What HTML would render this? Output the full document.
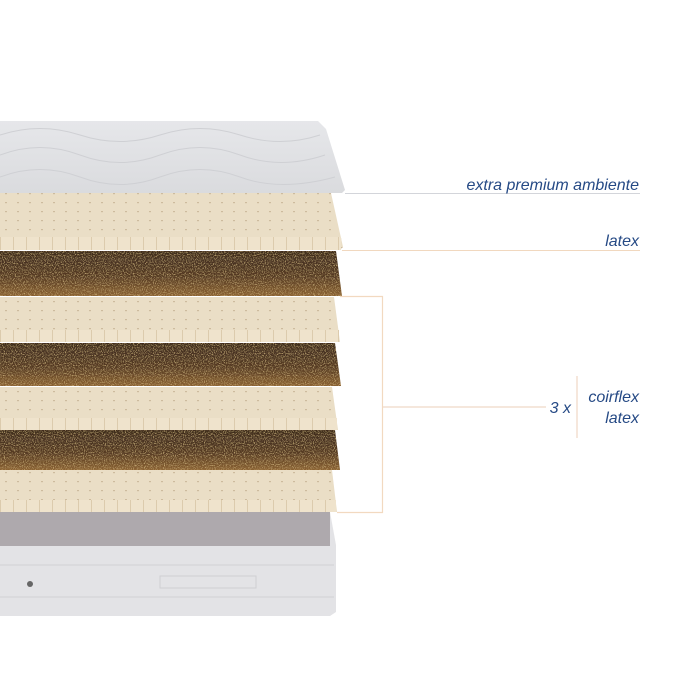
<!DOCTYPE html>
<html><head><meta charset="utf-8"><style>
html,body{margin:0;padding:0;background:#fff;width:700px;height:700px;overflow:hidden}
</style></head><body>
<svg width="700" height="700" viewBox="0 0 700 700" xmlns="http://www.w3.org/2000/svg">
<defs>
<pattern id="dots" width="12" height="9" patternUnits="userSpaceOnUse">
<rect x="5" y="4" width="2" height="1.2" fill="#cdbb9e"/>
</pattern>
<pattern id="ribs" width="13" height="20" patternUnits="userSpaceOnUse">
<rect x="0" y="0" width="1" height="20" fill="#dccbad"/>
</pattern>
<linearGradient id="coir" x1="0" y1="0" x2="0" y2="1">
<stop offset="0" stop-color="#3f2c1e"/><stop offset="0.55" stop-color="#553a24"/><stop offset="1" stop-color="#8a6232"/>
</linearGradient>
<linearGradient id="quilt" x1="0" y1="0" x2="0" y2="1">
<stop offset="0" stop-color="#e6e7ea"/><stop offset="1" stop-color="#dadbde"/>
</linearGradient>
<filter id="speck" x="0" y="0" width="100%" height="100%">
<feTurbulence type="fractalNoise" baseFrequency="0.9" numOctaves="2" seed="3" result="n"/>
<feColorMatrix in="n" type="matrix" values="0 0 0 0 0.75  0 0 0 0 0.55  0 0 0 0 0.25  0 0 0 2.2 -1.1" result="s"/>
<feComposite in="s" in2="SourceGraphic" operator="in" result="c"/>
<feMerge><feMergeNode in="SourceGraphic"/><feMergeNode in="c"/></feMerge>
</filter>
</defs>
<!-- base -->
<path d="M0 512 H330 L336 545 V612 L330 616 H0Z" fill="#e3e3e6"/>
<rect x="0" y="512" width="330" height="34" fill="#aea9ad"/>
<line x1="0" y1="565" x2="334" y2="565" stroke="#d0d0d4"/>
<line x1="0" y1="597" x2="334" y2="597" stroke="#d0d0d4"/>
<rect x="160" y="576" width="96" height="12" fill="none" stroke="#cfcfd3"/>
<circle cx="30" cy="584" r="3" fill="#666"/>
<!-- latex 4 -->
<path d="M0 470 H332 L337 512 H0Z" fill="#eadec6"/>
<path d="M0 470 H332 L337 512 H0Z" fill="url(#dots)"/>
<rect x="0" y="500" width="336" height="12" fill="#efe3cc"/><rect x="0" y="500" width="336" height="12" fill="url(#ribs)"/>
<!-- coir 3 -->
<path d="M0 430 H335 L340 470 H0Z" fill="url(#coir)" filter="url(#speck)"/>
<!-- latex 3 -->
<path d="M0 387 H332 L338 430 H0Z" fill="#eadec6"/>
<path d="M0 387 H332 L338 430 H0Z" fill="url(#dots)"/>
<rect x="0" y="418" width="337" height="12" fill="#efe3cc"/><rect x="0" y="418" width="337" height="12" fill="url(#ribs)"/>
<!-- coir 2 -->
<path d="M0 343 H335 L341 386 H0Z" fill="url(#coir)" filter="url(#speck)"/>
<!-- latex 2 -->
<path d="M0 297 H334 L340 342 H0Z" fill="#eadec6"/>
<path d="M0 297 H334 L340 342 H0Z" fill="url(#dots)"/>
<rect x="0" y="330" width="339" height="12" fill="#efe3cc"/><rect x="0" y="330" width="339" height="12" fill="url(#ribs)"/>
<!-- coir 1 -->
<path d="M0 251 H336 L342 296 H0Z" fill="url(#coir)" filter="url(#speck)"/>
<!-- latex 1 -->
<path d="M0 193 H331 L343 247 L340 250 H0Z" fill="#eadec6"/>
<path d="M0 193 H331 L343 247 L340 250 H0Z" fill="url(#dots)"/>
<rect x="0" y="237" width="341" height="13" fill="#efe3cc"/><rect x="0" y="237" width="341" height="13" fill="url(#ribs)"/>
<!-- quilt -->
<path d="M0 121 H318 L326 129 L345 190 L342 193 H0Z" fill="url(#quilt)"/>
<path d="M0 135 Q40 122 80 135 T160 135 T240 135 T320 135 M0 155 Q40 140 80 155 T160 155 T240 155 T325 155 M0 177 Q40 162 80 177 T160 177 T240 177 T335 177" fill="none" stroke="#cfd0d4" stroke-width="1"/>
<!-- lines -->
<line x1="345" y1="193.5" x2="640" y2="193.5" stroke="#d3d5da" stroke-width="1"/>
<line x1="342" y1="250.5" x2="640" y2="250.5" stroke="#f1d8bf" stroke-width="1"/>
<path d="M340 296.5 H382.5 V512.5 H337" fill="none" stroke="#f2d9c0" stroke-width="1.2"/>
<line x1="383" y1="407" x2="546" y2="407" stroke="#f2dfd0" stroke-width="1.5"/>
<line x1="577" y1="376" x2="577" y2="438" stroke="#f2dfd0" stroke-width="1.5"/>
<g font-family="Liberation Sans, sans-serif" font-style="italic" font-size="16" fill="#264a85" text-anchor="end">
<text x="639" y="190">extra premium ambiente</text>
<text x="639" y="246">latex</text>
<text x="639" y="402">coirflex</text>
<text x="639" y="423">latex</text>
<text x="571" y="413">3 x</text>
</g>
</svg>
</body></html>
